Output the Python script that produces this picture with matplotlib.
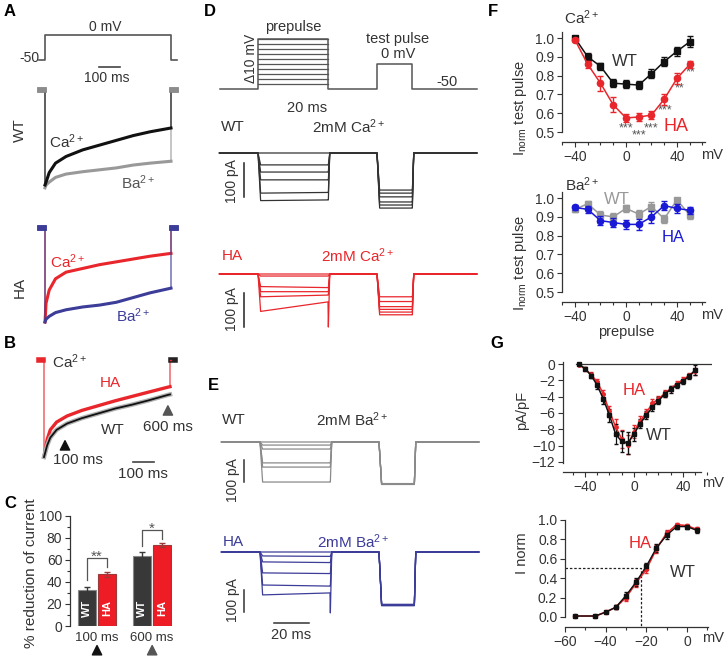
import numpy as np
import matplotlib
matplotlib.use('Agg')
import matplotlib.pyplot as plt
from matplotlib.ticker import MultipleLocator, FixedLocator

plt.rcParams['font.family'] = ['Liberation Sans', 'DejaVu Sans']
plt.rcParams['mathtext.default'] = 'regular'
plt.rcParams['font.size'] = 10

TXT = '#333333'
RED = '#e8262b'
NAVY = '#3c3c99'
BLUE = '#1a1ad6'
GREY = '#8c8c8c'

# ---------------- data ----------------
# A: normalised currents during a 600 ms step to 0 mV
a_prot_ms = [-30, 0, 0, 600, 600, 630]
a_prot_mv = [-50, -50, 0, 0, -50, -50]
a_t = [-22, -6, 0, 0, 5, 20, 50, 100, 180, 260, 340, 420, 500, 600, 600, 606, 622]
a_wt_ca = [0, 0, 0, -1, -0.97, -0.87, -0.77, -0.70, -0.63, -0.58, -0.53, -0.48, -0.44, -0.40, 0, 0, 0]
a_wt_ba = [0, 0, 0, -1.03, -1.0, -0.97, -0.92, -0.885, -0.86, -0.84, -0.82, -0.79, -0.77, -0.75, 0, 0, 0]
a_ha_ca = [0, 0, 0, -1, -0.80, -0.66, -0.54, -0.47, -0.43, -0.39, -0.36, -0.33, -0.30, -0.27, 0, 0, 0]
a_ha_ba = [0, 0, 0, -1, -0.97, -0.94, -0.90, -0.87, -0.84, -0.82, -0.79, -0.74, -0.69, -0.64, 0, 0, 0]

# B: Ca2+ currents, WT vs HA
b_t = [-22, -6, 0, 0, 15, 30, 60, 110, 180, 260, 340, 420, 500, 590, 600, 600, 606, 622]
b_wt = [0, 0, 0, -1, -0.88, -0.80, -0.72, -0.655, -0.60, -0.55, -0.50, -0.46, -0.415, -0.36, -0.355, 0, 0, 0]
b_ha = [0, 0, 0, -1, -0.82, -0.72, -0.64, -0.577, -0.52, -0.47, -0.42, -0.375, -0.33, -0.28, -0.275, 0, 0, 0]
b_marks_ms = [100, 590]

# C: % reduction of current
c_groups = ['100 ms', '600 ms']
c_wt = [32.5, 64]
c_wt_err = [3, 3]
c_ha = [47, 73.5]
c_ha_err = [2.5, 2]
c_stars = ['**', '*']

# D/E: prepulse protocol and current sweeps
d_pre_mv = [-40, -30, -20, -10, 0, 10, 20, 30, 40, 50]
d_prot_ms = [-22, 0, 0, 40, 40, 68, 68, 88, 88, 125]
d_prot_mv = [-50, -50, 50, 50, -50, -50, 0, 0, -50, -50]
sweep_ms = [-22, 0, 1.5, 40, 40.2, 41, 68, 69.5, 88, 88.2, 89, 125]

d_wt_pre0 = [0, -35, -56, -79, -118, -140]
d_wt_pre1 = [0, -35, -56, -79, -116, -138]
d_wt_test = [-162, -153, -144, -129, -118, -109]
d_wt_tail = [0, -35, -56, -79, -116, -138]

d_ha_pre0 = [0, -6, -37, -52, -67, -110]
d_ha_pre1 = [0, -6, -40, -52, -62, -82]
d_ha_test = [-120, -112, -104, -96, -81, -67]
d_ha_tail = [0, -6, -40, -52, -62, -156]

e_wt_pre = [0, -14, -32, -95, -114, -182]
e_wt_test = [-191, -189, -192, -190, -191, -193]
e_ha_pre0 = [0, -18, -45, -95, -150, -195]
e_ha_pre1 = [0, -20, -48, -98, -155, -186]
e_ha_test = [-241, -238, -243, -240, -244, -239]
e_ha_tail = [0, -20, -48, -98, -155, -277]

# F: inactivation by prepulse
f_mv = [-40, -30, -20, -10, 0, 10, 20, 30, 40, 50]
f_ca_wt = [1.0, 0.90, 0.85, 0.76, 0.755, 0.75, 0.81, 0.875, 0.93, 0.98]
f_ca_wt_err = [0.01, 0.02, 0.02, 0.02, 0.02, 0.02, 0.025, 0.025, 0.025, 0.03]
f_ca_ha = [0.99, 0.86, 0.76, 0.645, 0.575, 0.58, 0.59, 0.675, 0.785, 0.86]
f_ca_ha_err = [0.01, 0.02, 0.04, 0.04, 0.02, 0.02, 0.02, 0.03, 0.03, 0.02]
f_sig_mv = [0, 10, 20, 31, 42, 51]
f_sig_y = [0.52, 0.48, 0.52, 0.615, 0.73, 0.815]
f_sig = ['***', '***', '***', '***', '**', '**']
f_ba_wt = [0.94, 0.97, 0.91, 0.90, 0.945, 0.915, 0.955, 0.89, 0.99, 0.91]
f_ba_wt_err = [0.015, 0.015, 0.02, 0.02, 0.02, 0.02, 0.025, 0.02, 0.01, 0.02]
f_ba_ha = [0.95, 0.94, 0.88, 0.87, 0.86, 0.86, 0.90, 0.96, 0.945, 0.935]
f_ba_ha_err = [0.015, 0.02, 0.025, 0.025, 0.025, 0.03, 0.03, 0.025, 0.025, 0.02]

# G: I-V and activation
g_iv_mv = [-45, -40, -35, -30, -25, -20, -15, -10, -5, 0, 5, 10, 15, 20, 25, 30, 35, 40, 45, 50]
g_iv_wt = [0, -0.55, -1.4, -2.6, -4.3, -6.3, -8.6, -9.5, -9.7, -8.6, -7.3, -6.3, -5.3, -4.5, -3.7, -3.1, -2.6, -2.1, -1.5, -0.7]
g_iv_wt_err = [0.1, 0.2, 0.3, 0.5, 0.6, 0.8, 1.2, 1.3, 1.4, 0.8, 0.6, 0.5, 0.5, 0.4, 0.4, 0.4, 0.3, 0.3, 0.3, 0.6]
g_iv_ha = [-0.05, -0.6, -1.3, -2.2, -3.7, -5.8, -7.7, -9.2, -9.9, -8.3, -7.0, -6.0, -4.8, -4.3, -3.6, -3.0, -2.4, -1.9, -1.4, -0.9]
g_iv_ha_err = [0.1, 0.2, 0.3, 0.4, 0.5, 0.7, 0.9, 1.1, 1.2, 0.8, 0.6, 0.5, 0.5, 0.4, 0.4, 0.3, 0.3, 0.3, 0.3, 0.4]
g_act_mv = [-55, -45, -40, -35, -30, -25, -20, -15, -10, -5, 0, 5]
g_act_wt = [0.01, 0.01, 0.05, 0.10, 0.22, 0.36, 0.52, 0.71, 0.84, 0.93, 0.93, 0.89]
g_act_wt_err = [0.01, 0.01, 0.01, 0.02, 0.04, 0.04, 0.04, 0.04, 0.04, 0.03, 0.02, 0.03]
g_act_ha = [0.01, 0.01, 0.05, 0.10, 0.20, 0.35, 0.49, 0.70, 0.86, 0.95, 0.94, 0.90]
g_act_ha_err = [0.01, 0.01, 0.01, 0.02, 0.04, 0.04, 0.04, 0.04, 0.03, 0.02, 0.02, 0.03]
g_vhalf = -22.5

# ---------------- layout helpers (pixel based) ----------------
W, H = 728, 656
fig = plt.figure(figsize=(W / 100, H / 100), dpi=100)


def px_axes(left, top, right, bottom):
    return fig.add_axes([left / W, 1 - bottom / H, (right - left) / W, (bottom - top) / H])


def trace_axes(left, top, right, bottom, x0, px_x0, sx, y0, px_y0, sy):
    ax = px_axes(left, top, right, bottom)
    ax.set_xlim(x0 + (left - px_x0) / sx, x0 + (right - px_x0) / sx)
    ax.set_ylim(y0 - (bottom - px_y0) / sy, y0 - (top - px_y0) / sy)
    ax.axis('off')
    return ax


def label(x, y, s, **kw):
    kw.setdefault('color', TXT)
    kw.setdefault('fontsize', 10)
    kw.setdefault('ha', 'center')
    kw.setdefault('va', 'center')
    fig.text(x / W, 1 - y / H, s, **kw)


def style(ax):
    for side in ['top', 'right']:
        ax.spines[side].set_visible(False)
    for side in ['left', 'bottom']:
        ax.spines[side].set_color(TXT)
        ax.spines[side].set_linewidth(0.9)
    ax.tick_params(which='both', direction='out', color=TXT, labelcolor=TXT, width=0.8,
                   labelsize=10, pad=2)
    ax.tick_params(which='major', length=3.5)
    ax.tick_params(which='minor', length=2)


def sweep(ax, p0, p1, tail, q, color, lw=0.9):
    i = [0, 0, p0, p1, tail, 0, 0, q, q, q, 0, 0]
    ax.plot(sweep_ms, i, color=color, lw=lw)


# panel letters
for s, x, y in [('A', 10, 12), ('B', 10, 343), ('C', 10, 503), ('D', 210, 12),
                ('E', 213, 385), ('F', 493, 12), ('G', 497, 343)]:
    label(x, y, s, fontsize=12, fontweight='bold', color='black')

# ---------------- A ----------------
ax = trace_axes(0, 20, 200, 75, 0, 45, 0.21, -50, 60, 0.5)
ax.plot(a_prot_ms, a_prot_mv, color='#555555', lw=1.2)
ax.plot([255, 355], [-64, -64], color='#444444', lw=1.2)
label(40, 58, '-50', ha='right')
label(105, 27, '0 mV')
label(107, 78, '100 ms')

for top, zero, sy, ba, ca, ba_c, ca_c, mk_c in [
        (85, 90, 95, a_wt_ba, a_wt_ca, '#999999', '#111111', GREY),
        (215, 228, 94, a_ha_ba, a_ha_ca, NAVY, RED, NAVY)]:
    ax = trace_axes(0, top, 200, top + 115, 0, 45, 0.21, 0, zero, sy)
    for vals, c in [(ca, ca_c), (ba, ba_c)] if mk_c == NAVY else [(ba, ba_c), (ca, ca_c)]:
        ax.plot(a_t, vals, color=c, lw=0.8)
        ax.plot(a_t[3:14], vals[3:14], color=c, lw=2.2)
        ax.plot(a_t[:2], vals[:2], color=mk_c, lw=4)
        ax.plot(a_t[-2:], vals[-2:], color=mk_c, lw=4)

label(20, 130, 'WT', rotation=90, fontsize=11)
label(67, 142, 'Ca$^{2+}$', fontsize=11)
label(138, 183, 'Ba$^{2+}$', fontsize=11, color='#555555')
label(20, 287, 'HA', rotation=90, fontsize=11)
label(68, 262, 'Ca$^{2+}$', fontsize=11, color=RED)
label(133, 316, 'Ba$^{2+}$', fontsize=11, color=NAVY)

# ---------------- B ----------------
ax = trace_axes(0, 350, 200, 470, 0, 44, 0.21, 0, 360, 97)
ax.plot(b_t, b_ha, color=RED, lw=0.8)
ax.plot(b_t[3:15], b_ha[3:15], color=RED, lw=2.4)
ax.plot(b_t[3:15], b_wt[3:15], color='#b0b0b0', lw=3.2)
ax.plot(b_t[3:15], b_wt[3:15], color='#111111', lw=1.3)
ax.plot(b_t[:2], b_ha[:2], color=RED, lw=4)
ax.plot(b_t[-2:], b_ha[-2:], color='#222222', lw=4)
ax.plot(b_t[-3:-1], b_ha[-3:-1], color=RED, lw=1)
ax.scatter(b_marks_ms, [-0.88, -0.52], marker='^', s=45, c=['#111111', '#555555'], zorder=5)
ax.plot([424, 524], [-1.05, -1.05], color='#444444', lw=1.2)
label(70, 362, 'Ca$^{2+}$', fontsize=11)
label(110, 383, 'HA', fontsize=11, color=RED)
label(113, 430, 'WT', fontsize=11)
label(168, 427, '600 ms', fontsize=11)
label(78, 460, '100 ms', fontsize=11)
label(143, 474, '100 ms', fontsize=11)

# ---------------- C ----------------
ax = px_axes(70, 513, 172, 626)
style(ax)
x = np.arange(len(c_groups))
ax.bar(x - 0.18, c_wt, 0.33, yerr=c_wt_err, color='#383838', edgecolor='#888888', lw=0.8,
       error_kw=dict(ecolor='#383838', capsize=2, elinewidth=1))
ax.bar(x + 0.18, c_ha, 0.33, yerr=c_ha_err, color='#ee1c24', edgecolor='#9a3a3a', lw=0.8,
       error_kw=dict(ecolor='#9a3a3a', capsize=2, elinewidth=1))
for xi, wt, we, ha, he, st in zip(x, c_wt, c_wt_err, c_ha, c_ha_err, c_stars):
    top = max(wt + we, ha + he) + 12
    ax.plot([xi - 0.18, xi - 0.18, xi + 0.18, xi + 0.18],
            [wt + we + 6, top, top, ha + he + 4], color='#555555', lw=0.9)
    ax.text(xi, top + 1, st, ha='center', va='center', fontsize=11, color='#555555')
    ax.text(xi - 0.18, 16, 'WT', rotation=90, ha='center', va='center', color='white',
            fontsize=8, fontweight='bold')
    ax.text(xi + 0.18, 16, 'HA', rotation=90, ha='center', va='center', color='white',
            fontsize=8, fontweight='bold')
ax.scatter(x, [-22, -22], marker='^', s=45, c=['#111111', '#555555'], clip_on=False)
ax.set_xlim(-0.49, 1.36)
ax.set_ylim(0, 102.7)
ax.spines['bottom'].set_visible(False)
ax.spines['left'].set_bounds(0, 100)
ax.set_xticks(x)
ax.set_xticklabels(c_groups, fontsize=9.5)
ax.tick_params(axis='x', length=0, pad=4)
ax.yaxis.set_major_locator(MultipleLocator(20))
ax.yaxis.set_minor_locator(MultipleLocator(10))
label(31, 573, '% reduction of current', rotation=90, fontsize=11)

# ---------------- D ----------------
ax = trace_axes(205, 28, 485, 96, 0, 258, 1.75, -50, 89, 0.5)
for v in d_pre_mv:
    ax.plot([0, 40], [v, v], color='#555555', lw=0.9)
ax.plot(d_prot_ms, d_prot_mv, color='#555555', lw=1.1)
ax.plot([18, 38], [-68, -68], color='#444444', lw=1.1)
label(293, 27, 'prepulse', fontsize=10.5)
label(398, 39, 'test pulse', fontsize=10.5)
label(398, 54, '0 mV', fontsize=10.5)
label(447, 82, '-50', fontsize=10.5)
label(251, 58, 'Δ10 mV', rotation=90, fontsize=10)
label(307, 108, '20 ms', fontsize=10.5)

ax = trace_axes(205, 140, 485, 215, 0, 258, 1.75, 0, 153, 0.34)
for p0, p1, tl, q in zip(d_wt_pre0, d_wt_pre1, d_wt_tail, d_wt_test):
    sweep(ax, p0, p1, tl, q, '#333333')
ax.plot([-8, -8], [-29, -129], color='#222222', lw=1.1)
label(233, 127, 'WT', fontsize=11)
label(349, 127, '2mM Ca$^{2+}$', fontsize=11)
label(232, 181, '100 pA', rotation=90, fontsize=10)

ax = trace_axes(205, 262, 485, 335, 0, 258, 1.75, 0, 274, 0.34)
for p0, p1, tl, q in zip(d_ha_pre0, d_ha_pre1, d_ha_tail, d_ha_test):
    sweep(ax, p0, p1, tl, q, RED)
ax.plot([-8, -8], [-56, -156], color='#222222', lw=1.1)
label(232, 256, 'HA', fontsize=11, color=RED)
label(358, 256, '2mM Ca$^{2+}$', fontsize=11, color=RED)
label(232, 309, '100 pA', rotation=90, fontsize=10)

# ---------------- E ----------------
ax = trace_axes(205, 430, 485, 495, 0, 260, 1.75, 0, 442, 0.22)
for p, q in zip(e_wt_pre, e_wt_test):
    sweep(ax, p, p, p, q, '#8a8a8a')
ax.plot([-9, -9], [-82, -182], color='#333333', lw=1.1)
label(234, 420, 'WT', fontsize=11)
label(352, 420, '2mM Ba$^{2+}$', fontsize=11)
label(233, 480, '100 pA', rotation=90, fontsize=10)

ax = trace_axes(205, 530, 485, 630, 0, 260, 1.75, 0, 552, 0.22)
for p0, p1, tl, q in zip(e_ha_pre0, e_ha_pre1, e_ha_tail, e_ha_test):
    sweep(ax, p0, p1, tl, q, NAVY)
ax.plot([-9, -9], [-173, -273], color='#333333', lw=1.1)
ax.plot([8, 28], [-323, -323], color='#333333', lw=1.1)
label(233, 542, 'HA', fontsize=11, color=NAVY)
label(353, 542, '2mM Ba$^{2+}$', fontsize=11, color=NAVY)
label(233, 600, '100 pA', rotation=90, fontsize=10)
label(291, 635, '20 ms', fontsize=10.5)

# ---------------- F ----------------
for top, wt, wte, ha, hae, wt_c, ha_c, ion in [
        (30, f_ca_wt, f_ca_wt_err, f_ca_ha, f_ca_ha_err, '#111111', RED, 'Ca'),
        (190, f_ba_wt, f_ba_wt_err, f_ba_ha, f_ba_ha_err, '#999999', BLUE, 'Ba')]:
    ax = px_axes(562, top, 705, top + 112)
    style(ax)
    ax.errorbar(f_mv, wt, yerr=wte, color=wt_c, marker='s', ms=4.5, lw=1.1, capsize=2,
                elinewidth=1, zorder=3)
    ax.errorbar(f_mv, ha, yerr=hae, color=ha_c, marker='o', ms=4.5, lw=1.1, capsize=2,
                elinewidth=1, zorder=4)
    ax.set_xlim(-50.2, 62)
    ax.set_ylim(0.447, 1.043)
    ax.spines['left'].set_bounds(0.5, 1.03)
    ax.yaxis.set_major_locator(MultipleLocator(0.1))
    ax.yaxis.set_major_formatter('{x:.1f}')
    ax.xaxis.set_major_locator(FixedLocator([-40, 0, 40]))
    ax.xaxis.set_minor_locator(MultipleLocator(10))
    if ion == 'Ca':
        for xs, ys, s in zip(f_sig_mv, f_sig_y, f_sig):
            ax.text(xs, ys, s, ha='center', va='center', fontsize=9, color='#555555')
        ax.text(39, 0.53, 'HA', color=RED, fontsize=13, ha='center', va='center')
        ax.text(-1, 0.875, 'WT', color='#333333', fontsize=12, ha='center', va='center')
    else:
        ax.text(-7, 0.995, 'WT', color='#999999', fontsize=12, ha='center', va='center')
        ax.text(37, 0.79, 'HA', color=BLUE, fontsize=12, ha='center', va='center')

label(582, 18, 'Ca$^{2+}$', fontsize=11)
label(582, 185, 'Ba$^{2+}$', fontsize=11)
label(712, 155, 'mV', fontsize=10.5)
label(712, 315, 'mV', fontsize=10.5)
label(626, 332, 'prepulse', fontsize=10.5)
label(520, 108, 'I$_{norm}$ test pulse', rotation=90, fontsize=10.5)
label(520, 263, 'I$_{norm}$ test pulse', rotation=90, fontsize=10.5)

# ---------------- G ----------------
ax = px_axes(563, 358, 712, 472)
style(ax)
ax.axhline(0, xmin=0.09, xmax=1.0, color='#333333', lw=0.9)
ax.errorbar(g_iv_mv, g_iv_ha, yerr=g_iv_ha_err, color=RED, marker='o', ms=2.5, lw=1.1,
            capsize=1.5, elinewidth=0.9)
ax.errorbar(g_iv_mv, g_iv_wt, yerr=g_iv_wt_err, color='#111111', marker='s', ms=2.5, lw=1.1,
            capsize=1.5, elinewidth=0.9)
ax.set_xlim(-57.96, 63.7)
ax.set_ylim(-13.25, 0.75)
ax.spines['left'].set_bounds(-12.2, 0.2)
ax.spines['bottom'].set_bounds(-58, 55)
ax.yaxis.set_major_locator(MultipleLocator(2))
ax.yaxis.set_major_formatter('{x:.0f}')
ax.xaxis.set_major_locator(FixedLocator([-40, 0, 40]))
ax.xaxis.set_minor_locator(MultipleLocator(10))
ax.text(0, -3.2, 'HA', color=RED, fontsize=12, ha='center', va='center')
ax.text(20, -8.8, 'WT', color='#333333', fontsize=12, ha='center', va='center')
label(713, 483, 'mV', fontsize=10.5)
label(522, 410, 'pA/pF', rotation=90, fontsize=10.5)

ax = px_axes(565, 512, 708, 627)
style(ax)
ax.errorbar(g_act_mv, g_act_ha, yerr=g_act_ha_err, color=RED, marker='o', ms=3, lw=1.2,
            capsize=1.5, elinewidth=0.9)
ax.errorbar(g_act_mv, g_act_wt, yerr=g_act_wt_err, color='#111111', marker='s', ms=3, lw=1.0,
            capsize=1.5, elinewidth=0.9)
ax.plot([-60, g_vhalf, g_vhalf], [0.5, 0.5, -0.103], color='#222222', lw=0.9, ls=(0, (2, 1.5)))
ax.set_xlim(-60, 10.4)
ax.set_ylim(-0.103, 1.08)
ax.spines['left'].set_bounds(0, 1.0)
ax.yaxis.set_major_locator(MultipleLocator(0.2))
ax.yaxis.set_major_formatter('{x:.1f}')
ax.xaxis.set_major_locator(MultipleLocator(20))
ax.xaxis.set_minor_locator(MultipleLocator(10))
ax.text(-23, 0.76, 'HA', color=RED, fontsize=12, ha='center', va='center')
ax.text(-2, 0.46, 'WT', color='#333333', fontsize=12, ha='center', va='center')
label(713, 638, 'mV', fontsize=10.5)
label(522, 553, 'I norm', rotation=90, fontsize=10.5)

fig.savefig('out.png', dpi=100)
